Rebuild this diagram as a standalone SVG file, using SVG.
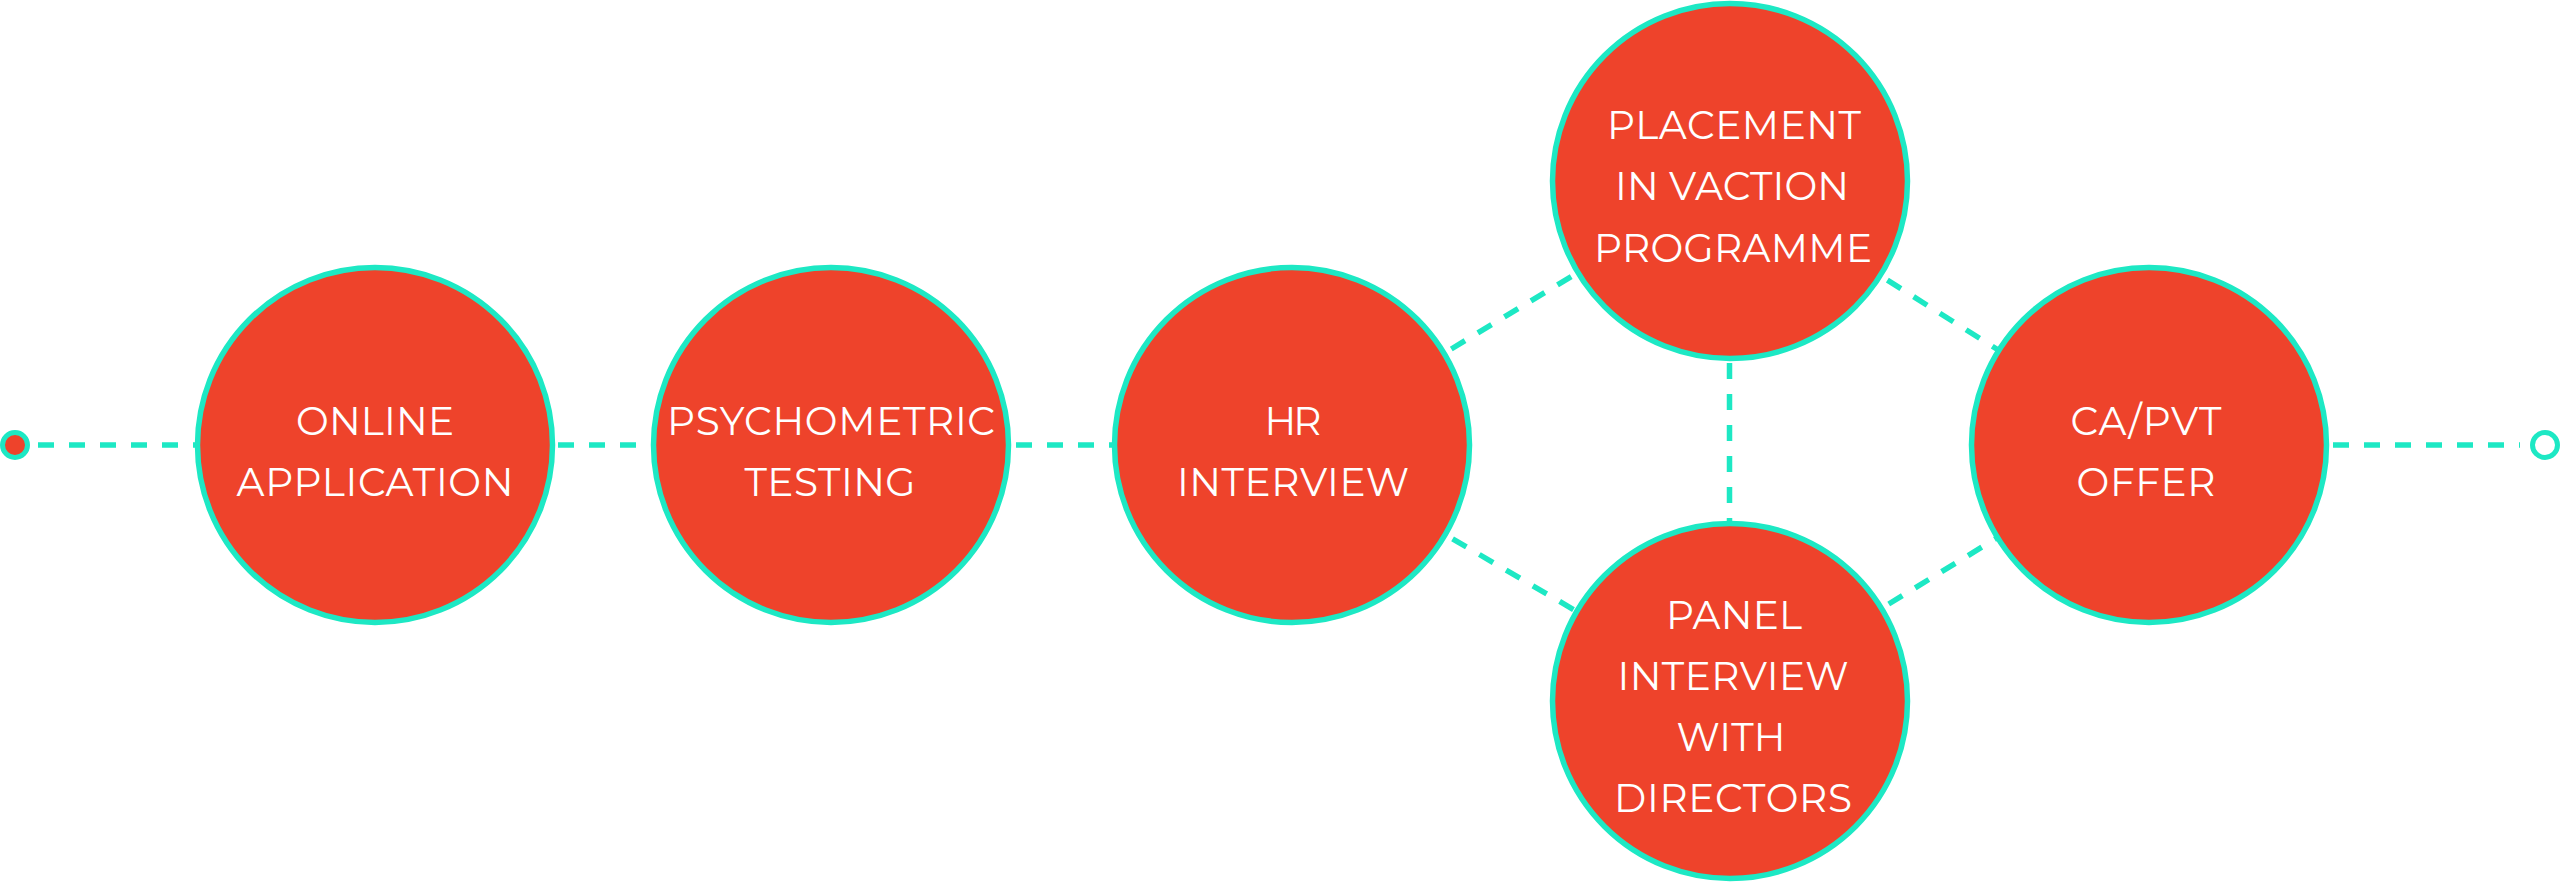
<svg xmlns="http://www.w3.org/2000/svg" width="2560" height="882" viewBox="0 0 2560 882">
  <style>
    .bg { fill: #ffffff; }
    .node circle { fill: #EE432B; stroke: #1DE8C4; stroke-width: 5.5; }
    .node text { fill: #ffffff; font-family: "Montserrat", "Open Sans", "Liberation Sans", sans-serif; font-size: 39px; text-anchor: middle; }
    .conn line { stroke: #1DE8C4; stroke-width: 5.5; stroke-dasharray: 16 15; fill: none; }
    .dot { stroke: #1DE8C4; stroke-width: 5; }
  </style>
  <rect class="bg" x="0" y="0" width="2560" height="882"/>
  <g id="connectors" class="conn">
    <line x1="38" y1="445" x2="200" y2="445"/>
    <line x1="558" y1="445" x2="655" y2="445"/>
    <line x1="1016" y1="445" x2="1115" y2="445"/>
    <line x1="2333" y1="445" x2="2520" y2="445"/>
    <line x1="1292" y1="445" x2="1730" y2="181"/>
    <line x1="1292" y1="445" x2="1730" y2="701"/>
    <line x1="1730" y1="181" x2="2149" y2="445"/>
    <line x1="1730" y1="701" x2="2149" y2="445"/>
    <line x1="1729.5" y1="363" x2="1729.5" y2="522"/>
  </g>
  <g id="start">
    <circle class="dot" cx="15" cy="445" r="12.5" fill="#EE432B"/>
  </g>
  <g id="end">
    <circle class="dot" cx="2545" cy="445" r="12.5" fill="#ffffff"/>
  </g>
  <g id="online-application" class="node">
    <circle cx="375" cy="445" r="177.5"/>
    <text x="375" y="435" textLength="158" lengthAdjust="spacing">ONLINE</text>
    <text x="375" y="496" textLength="277" lengthAdjust="spacing">APPLICATION</text>
  </g>
  <g id="psychometric-testing" class="node">
    <circle cx="831" cy="445" r="177.5"/>
    <text x="831" y="435" textLength="328" lengthAdjust="spacing">PSYCHOMETRIC</text>
    <text x="830" y="496" textLength="171" lengthAdjust="spacing">TESTING</text>
  </g>
  <g id="hr-interview" class="node">
    <circle cx="1292" cy="445" r="177.5"/>
    <text x="1293" y="435" textLength="57" lengthAdjust="spacing">HR</text>
    <text x="1293" y="496" textLength="232" lengthAdjust="spacing">INTERVIEW</text>
  </g>
  <g id="placement" class="node">
    <circle cx="1730" cy="181" r="177.5"/>
    <text x="1734" y="139" textLength="254" lengthAdjust="spacing">PLACEMENT</text>
    <text x="1732" y="200" textLength="234" lengthAdjust="spacing">IN VACTION</text>
    <text x="1733" y="262" textLength="278" lengthAdjust="spacing">PROGRAMME</text>
  </g>
  <g id="panel-interview" class="node">
    <circle cx="1730" cy="701" r="177.5"/>
    <text x="1734" y="629" textLength="136" lengthAdjust="spacing">PANEL</text>
    <text x="1733" y="690" textLength="231" lengthAdjust="spacing">INTERVIEW</text>
    <text x="1731" y="751" textLength="109" lengthAdjust="spacing">WITH</text>
    <text x="1733" y="812" textLength="238" lengthAdjust="spacing">DIRECTORS</text>
  </g>
  <g id="ca-pvt-offer" class="node">
    <circle cx="2149" cy="445" r="177.5"/>
    <text x="2146" y="435" textLength="151" lengthAdjust="spacing">CA/PVT</text>
    <text x="2146" y="496" textLength="139" lengthAdjust="spacing">OFFER</text>
  </g>
</svg>
